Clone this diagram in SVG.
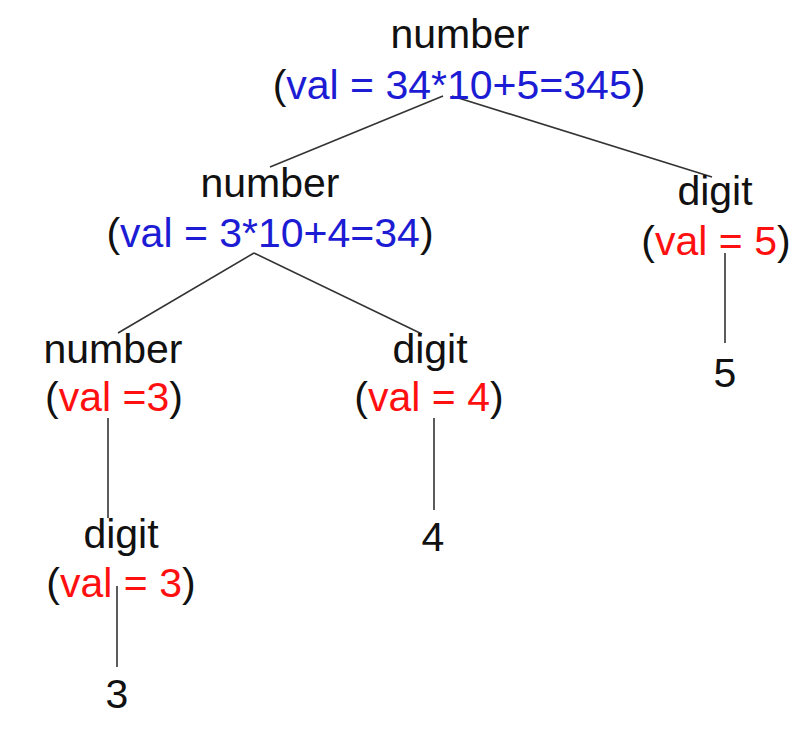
<svg xmlns="http://www.w3.org/2000/svg" width="812" height="729" viewBox="0 0 812 729">
<style>
text{font-family:"Liberation Sans",Arial,sans-serif;font-size:41px;fill:#111;text-anchor:middle}
.b{fill:#1c1cd4}
.r{fill:#ff1010}
.e{stroke:#333;stroke-width:1.6;fill:none}
</style>
<rect width="812" height="729" fill="#fff"/>
<g id="connectors">
<line class="e" x1="443" y1="96" x2="270" y2="167"/>
<line class="e" x1="452" y1="96" x2="712" y2="177"/>
<line class="e" x1="254" y1="253" x2="118" y2="333"/>
<line class="e" x1="254" y1="253" x2="422" y2="334"/>
<line class="e" x1="725" y1="253" x2="725" y2="343"/>
<line class="e" x1="108" y1="418" x2="108" y2="518"/>
<line class="e" x1="434" y1="418" x2="434" y2="510"/>
<line class="e" x1="117" y1="586" x2="117" y2="667"/>
</g>
<g id="n-root">
<text x="460" y="48">number</text>
<text x="459" y="99">(<tspan class="b">val = 34*10+5=345</tspan>)</text>
</g>
<g id="n-number2">
<text x="270" y="197">number</text>
<text x="270" y="247">(<tspan class="b">val = 3*10+4=34</tspan>)</text>
</g>
<g id="n-digit5">
<text x="715" y="205">digit</text>
<text x="716" y="255">(<tspan class="r">val = 5</tspan>)</text>
</g>
<g id="n-leaf5">
<text x="725" y="387">5</text>
</g>
<g id="n-number3">
<text x="113" y="363">number</text>
<text x="114" y="411">(<tspan class="r">val =3</tspan>)</text>
</g>
<g id="n-digit4">
<text x="430" y="363">digit</text>
<text x="429" y="411">(<tspan class="r">val = 4</tspan>)</text>
</g>
<g id="n-leaf4">
<text x="433" y="551">4</text>
</g>
<g id="n-digit3">
<text x="121" y="548">digit</text>
<text x="121" y="597">(<tspan class="r">val = 3</tspan>)</text>
</g>
<g id="n-leaf3">
<text x="117" y="708">3</text>
</g>
</svg>
